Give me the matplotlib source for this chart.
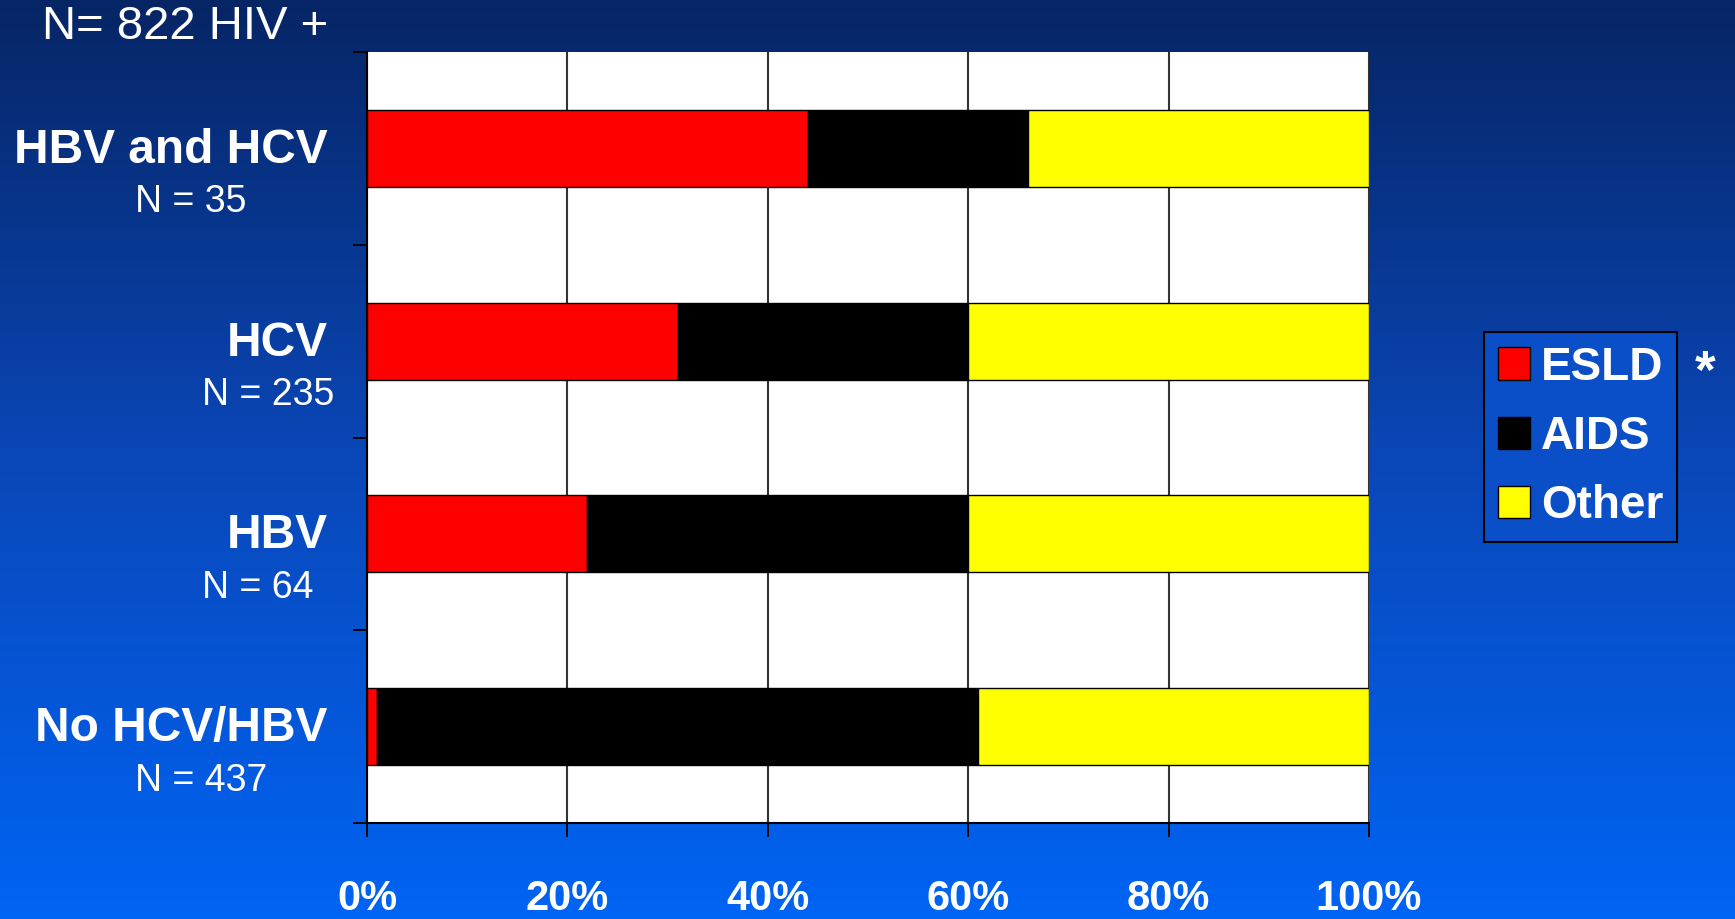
import numpy as np
import matplotlib
matplotlib.use("Agg")
import matplotlib.pyplot as plt
from matplotlib.patches import Patch
from matplotlib.colors import LinearSegmentedColormap

# ---- data ----
categories = ["HBV and HCV", "HCV", "HBV", "No HCV/HBV"]
n_labels = ["N = 35", "N = 235", "N = 64", "N = 437"]
esld = [44, 31, 22, 1]
aids = [22, 29, 38, 60]
other = [34, 40, 40, 39]
series_names = ["ESLD", "AIDS", "Other"]
series_colors = ["#ff0000", "#000000", "#ffff00"]
xtick_values = [0, 20, 40, 60, 80, 100]
xtick_labels = ["0%", "20%", "40%", "60%", "80%", "100%"]
title_text = "N= 822 HIV +"

plt.rcParams['font.family'] = ['Liberation Sans', 'DejaVu Sans']

W, H, DPI = 1735, 919, 100
fig = plt.figure(figsize=(W / DPI, H / DPI), dpi=DPI)

# background gradient
bg = fig.add_axes([0, 0, 1, 1], zorder=-10)
cmap = LinearSegmentedColormap.from_list("bg", ["#062565", "#0a47b8", "#0064f4"])
grad = np.linspace(0, 1, 256).reshape(-1, 1)
bg.imshow(grad, aspect="auto", cmap=cmap, extent=[0, 1, 0, 1], origin="upper")
bg.set_axis_off()

left, right = 367 / W, 1369 / W
bottom, top = (H - 823) / H, (H - 52) / H
ax = fig.add_axes([left, bottom, right - left, top - bottom])
ax.set_facecolor("white")

y = np.arange(len(categories))
lefts = np.zeros(len(categories))
for vals, name, col in zip([esld, aids, other], series_names, series_colors):
    ax.barh(y, vals, left=lefts, height=0.4, color=col, edgecolor="black",
            linewidth=1.0, label=name, zorder=3)
    lefts = lefts + np.array(vals)

ax.set_xlim(0, 100)
ax.set_ylim(len(categories) - 0.5, -0.5)

ax.set_xticks(xtick_values)
ax.set_xticklabels(xtick_labels, color="white", fontsize=30, fontweight="bold")
ax.tick_params(axis="x", direction="out", length=10, width=1.3, color="black", pad=30)
ax.set_yticks(np.arange(-0.5, len(categories), 1.0))
ax.set_yticklabels([])
ax.tick_params(axis="y", direction="out", length=10, width=1.3, color="black")

ax.grid(axis="x", color="#333333", linewidth=1.5, zorder=1)
ax.set_axisbelow(True)
for s in ["top", "right"]:
    ax.spines[s].set_visible(False)
for s in ["left", "bottom"]:
    ax.spines[s].set_color("black")
    ax.spines[s].set_linewidth(1.5)

# category labels (layout positions in reference-pixel units)
n_x = [122 / 1568, 183 / 1568, 183 / 1568, 122 / 1568]
for i, cat in enumerate(categories):
    fig.text(296 / 1568, 1 - (136 / 831 + i * 174.3 / 831), cat, color="white",
             fontsize=34.5, fontweight="bold", ha="right", va="center")
for i, nl in enumerate(n_labels):
    fig.text(n_x[i], 1 - (183 / 831 + i * 174.3 / 831), nl, color="white",
             fontsize=27, ha="left", va="center")

fig.text(38 / 1568, 1 - 24 / 831, title_text, color="white", fontsize=34,
         ha="left", va="center")

# legend
handles = [Patch(facecolor=c, edgecolor="black", label=n)
           for n, c in zip(series_names, series_colors)]
leg = fig.legend(handles=handles, loc="upper left",
                 bbox_to_anchor=(1341 / 1568, 1 - 300 / 831),
                 frameon=True, fancybox=False, facecolor="#0a4fc8",
                 edgecolor="black", framealpha=1, fontsize=33,
                 handlelength=0.7, handleheight=0.7, handletextpad=0.25,
                 labelspacing=0.55, borderpad=0.3, borderaxespad=0)
leg.get_frame().set_linewidth(1.5)
for t in leg.get_texts():
    t.set_color("white")
    t.set_fontweight("bold")
fig.text(1541 / 1568, 1 - 338 / 831, "*", color="white", fontsize=38,
         fontweight="bold", ha="center", va="center")

fig.savefig("out.png", dpi=DPI)
